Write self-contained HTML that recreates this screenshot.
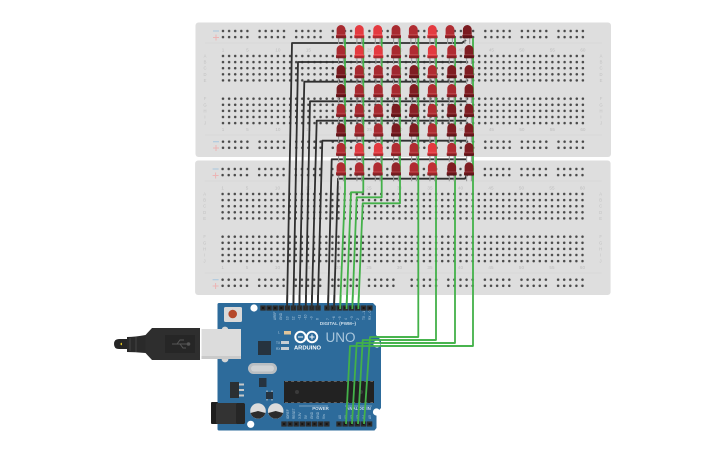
<!DOCTYPE html>
<html><head><meta charset="utf-8"><style>
html,body{margin:0;padding:0;background:#fff;width:725px;height:453px;overflow:hidden}
svg{display:block}
text{font-family:"Liberation Sans",sans-serif}
</style></head><body>
<svg width="725" height="453" viewBox="0 0 725 453" xmlns="http://www.w3.org/2000/svg">
<defs>
<pattern id="d" patternUnits="userSpaceOnUse" x="-3.05" y="-3.05" width="6.1" height="6.1"><circle cx="3.05" cy="3.05" r="1.25" fill="#484848"/></pattern>
<pattern id="p" patternUnits="userSpaceOnUse" x="0" y="0" width="6.1" height="6"><rect x=".3" y=".4" width="5.5" height="5.2" fill="#2c2c2c"/><rect x="2" y="2" width="2" height="2" fill="#151515"/></pattern>
<g id="rails">
<g transform="translate(0 0)"><rect x="-3.05" y="-3.05" width="30.5" height="12.2" fill="url(#d)"/></g>
<g transform="translate(36.6 0)"><rect x="-3.05" y="-3.05" width="30.5" height="12.2" fill="url(#d)"/></g>
<g transform="translate(73.2 0)"><rect x="-3.05" y="-3.05" width="30.5" height="12.2" fill="url(#d)"/></g>
<g transform="translate(109.8 0)"><rect x="-3.05" y="-3.05" width="30.5" height="12.2" fill="url(#d)"/></g>
<g transform="translate(146.4 0)"><rect x="-3.05" y="-3.05" width="30.5" height="12.2" fill="url(#d)"/></g>
<g transform="translate(189.1 0)"><rect x="-3.05" y="-3.05" width="30.5" height="12.2" fill="url(#d)"/></g>
<g transform="translate(225.7 0)"><rect x="-3.05" y="-3.05" width="30.5" height="12.2" fill="url(#d)"/></g>
<g transform="translate(262.3 0)"><rect x="-3.05" y="-3.05" width="30.5" height="12.2" fill="url(#d)"/></g>
<g transform="translate(298.9 0)"><rect x="-3.05" y="-3.05" width="30.5" height="12.2" fill="url(#d)"/></g>
<g transform="translate(335.5 0)"><rect x="-3.05" y="-3.05" width="30.5" height="12.2" fill="url(#d)"/></g>
</g>
<g id="nums" font-size="4.6" fill="#bdbdbd" text-anchor="middle">
<text x="223">1</text><text x="247.4">5</text><text x="277.9">10</text><text x="308.4">15</text><text x="338.9">20</text><text x="369.4">25</text><text x="399.9">30</text><text x="430.4">35</text><text x="460.9">40</text><text x="491.4">45</text><text x="521.9">50</text><text x="552.4">55</text><text x="582.9">60</text>
</g>
<g id="letters" font-size="4.2" fill="#c2c2c2" text-anchor="middle">
<text y="57.5">A</text><text y="63.6">B</text><text y="69.7">C</text><text y="75.8">D</text><text y="81.9">E</text>
<text y="100.2">F</text><text y="106.3">G</text><text y="112.4">H</text><text y="118.5">I</text><text y="124.6">J</text>
</g>
<g id="bb">
<rect x="195.5" y="22.5" width="415.5" height="134.5" rx="3" fill="#dedede"/>
<path d="M205 43H602M205 135H602" stroke="#d6d6d6" stroke-width=".7"/>
<use href="#rails" transform="translate(223 31)"/>
<use href="#rails" transform="translate(223 141.7)"/>
<g transform="translate(223 56)"><rect x="-3.05" y="-3.05" width="366" height="30.5" fill="url(#d)"/></g>
<g transform="translate(223 98.7)"><rect x="-3.05" y="-3.05" width="366" height="30.5" fill="url(#d)"/></g>
<use href="#nums" y="51.5"/><use href="#nums" y="131"/>
<use href="#letters" x="205"/><use href="#letters" x="601"/>
<path d="M213 31H219M213 141.7H219" stroke="#a6c5df" stroke-width="1"/>
<path d="M213 37.5H219M216 34.5V40.5M213 148H219M216 145V151" stroke="#ecb4b4" stroke-width="1"/>
</g>
<g id="l">
<path d="M-2.4 13V19M2.4 13V19" stroke="#9a9a9a" stroke-width="1.1"/>
<path d="M-4.4 13V4.5A4.4 4.5 0 0 1 4.4 4.5V13Z" fill="currentColor"/>
<rect x="-5" y="9.6" width="10" height="3.6" rx="1" fill="currentColor"/>
<rect x="-5" y="11" width="10" height="2.4" rx="1" fill="#000" opacity=".25"/>
<rect x="-4.4" y="9.2" width="8.8" height=".7" fill="#fff" opacity=".18"/>
</g>
</defs>

<use href="#bb"/>
<use href="#bb" transform="translate(-.4 138)"/>

<!-- black wires -->
<g fill="none" stroke="#2f2f2f" stroke-width="1.8" stroke-linejoin="round">
<path d="M287 309L292 43H462L466 40"/>
<path d="M293.3 309L298 62H466"/>
<path d="M299.3 309L304.3 81.7H466"/>
<path d="M305.7 309L310 101.3H466"/>
<path d="M311.7 309L316.7 120.7H466"/>
<path d="M317.7 309L322.3 140.7H466"/>
<path d="M328 309L331.7 159.3H466"/>
<path d="M334 309L338 178.7H465L467 175"/>
</g>
<!-- green wires -->
<g fill="none" stroke="#43b149" stroke-width="1.8" stroke-linejoin="round">
<path d="M345 38V190L340 309"/>
<path d="M363.3 38V192.3H351L346.5 309"/>
<path d="M381.7 38V197.3H356.7L352.3 309"/>
<path d="M400 38V203.3H362.7L358.3 309"/>
<path d="M418.3 38V337H370L364 424"/>
<path d="M436 38V340H362.7L358 424"/>
<path d="M455 38V343H356.7L352 424"/>
<path d="M473 38V346H350L346 424"/>
</g>

<!-- LEDs -->
<g>
<g transform="translate(0 25)">
<use href="#l" x="341" color="#a82a30"/><use href="#l" x="359.3" color="#e43a40"/><use href="#l" x="377.7" color="#e43a40"/><use href="#l" x="396" color="#a82a30"/><use href="#l" x="413.3" color="#b02c32"/><use href="#l" x="432.3" color="#e43a40"/><use href="#l" x="450" color="#b02c32"/><use href="#l" x="467.3" color="#7a1b20"/>
</g>
<g transform="translate(0 45)">
<use href="#l" x="341" color="#aa2a30"/><use href="#l" x="359.3" color="#e43a40"/><use href="#l" x="378.3" color="#e43a40"/><use href="#l" x="396" color="#aa2a30"/><use href="#l" x="414" color="#b02c32"/><use href="#l" x="432.3" color="#e43a40"/><use href="#l" x="451.7" color="#b02c32"/><use href="#l" x="469" color="#7f1d22"/>
</g>
<g transform="translate(0 65)">
<use href="#l" x="341" color="#7a1b20"/><use href="#l" x="359.3" color="#a82a30"/><use href="#l" x="378.3" color="#a82a30"/><use href="#l" x="396" color="#a02830"/><use href="#l" x="414" color="#7f1d22"/><use href="#l" x="432.3" color="#b02c32"/><use href="#l" x="451.7" color="#7f1d22"/><use href="#l" x="469" color="#7f1d22"/>
</g>
<g transform="translate(0 84)">
<use href="#l" x="341" color="#7a1b20"/><use href="#l" x="359.3" color="#a82a30"/><use href="#l" x="378.3" color="#a82a30"/><use href="#l" x="396" color="#a82a30"/><use href="#l" x="414" color="#7f1d22"/><use href="#l" x="432.3" color="#b02c32"/><use href="#l" x="451.7" color="#a82a30"/><use href="#l" x="469" color="#7f1d22"/>
</g>
<g transform="translate(0 103.7)">
<use href="#l" x="341" color="#a82a30"/><use href="#l" x="359.3" color="#a82a30"/><use href="#l" x="378.3" color="#a82a30"/><use href="#l" x="396" color="#7a1b20"/><use href="#l" x="414" color="#8a2026"/><use href="#l" x="432.3" color="#b02c32"/><use href="#l" x="451.7" color="#7f1d22"/><use href="#l" x="469" color="#7f1d22"/>
</g>
<g transform="translate(0 123.3)">
<use href="#l" x="341" color="#7a1b20"/><use href="#l" x="359.3" color="#a82a30"/><use href="#l" x="378.3" color="#a82a30"/><use href="#l" x="396" color="#7a1b20"/><use href="#l" x="414" color="#7f1d22"/><use href="#l" x="432.3" color="#b02c32"/><use href="#l" x="451.7" color="#7f1d22"/><use href="#l" x="469" color="#7f1d22"/>
</g>
<g transform="translate(0 142.7)">
<use href="#l" x="341" color="#b02c32"/><use href="#l" x="359.3" color="#e03a40"/><use href="#l" x="378.3" color="#e43a40"/><use href="#l" x="396" color="#b02c32"/><use href="#l" x="414" color="#b02c32"/><use href="#l" x="432.3" color="#e43a40"/><use href="#l" x="451.7" color="#b02c32"/><use href="#l" x="469" color="#7f1d22"/>
</g>
<g transform="translate(0 162.3)">
<use href="#l" x="341" color="#b02c32"/><use href="#l" x="359.3" color="#b02c32"/><use href="#l" x="377.7" color="#b02c32"/><use href="#l" x="396" color="#94242a"/><use href="#l" x="414" color="#b02c32"/><use href="#l" x="432.3" color="#c03035"/><use href="#l" x="451.7" color="#7f1d22"/><use href="#l" x="469" color="#7f1d22"/>
</g>
</g>

<!-- Arduino board -->
<path d="M219 303H373L376 306V335L381 340V408L376.5 413V428L374.5 430.5H219Q217.5 430.5 217.5 429V304.5Q217.5 303 219 303Z" fill="#2d6b9b"/>
<circle cx="254" cy="308" r="3.6" fill="#fff"/>
<circle cx="377" cy="344" r="3.6" fill="#fff"/>
<circle cx="376.5" cy="412" r="3.6" fill="#fff"/>
<circle cx="250.7" cy="424.3" r="3.6" fill="#fff"/>
<rect x="224" y="307" width="18" height="15" rx="1.5" fill="#d9d9d9"/>
<circle cx="232.7" cy="314" r="4.3" fill="#b5482a"/>
<g transform="translate(260 305)"><rect width="61" height="6" fill="url(#p)"/></g>
<g transform="translate(324 305)"><rect width="49" height="6" fill="url(#p)"/></g>
<g transform="translate(281 421)"><rect width="49" height="6" fill="url(#p)"/></g>
<g transform="translate(336 421)"><rect width="36.6" height="6" fill="url(#p)"/></g>

<!-- USB -->
<circle cx="225" cy="330" r="3.4" fill="#d6d6d6"/><circle cx="225" cy="359" r="3.4" fill="#d6d6d6"/>
<rect x="201.5" y="329" width="39.5" height="30" fill="#dcdcdc"/>
<rect x="201.5" y="356" width="39.5" height="3" fill="#cacaca"/>
<path d="M152 328H200V360H152L145.5 353V335Z" fill="#2e2e2e"/>
<rect x="165" y="335" width="30" height="18" fill="#262626"/>
<path d="M127 337Q135 337 145.5 335V353Q135 352 127 352Z" fill="#2a2a2a"/>
<path d="M114 344Q114 339 119 339H127V349H119Q114 349 114 344Z" fill="#262626"/>
<path d="M136 337V352M130 338V351" stroke="#444" stroke-width="1"/>
<path d="M120 344L122 342.5V345.5Z" fill="#e5c820"/>
<path d="M172 344H190M177 344L180 340H184M180 344L183 348H186" stroke="#555" stroke-width="1" fill="none"/>
<circle cx="188.5" cy="344" r="1.8" fill="#555"/>

<!-- components -->
<rect x="258" y="341" width="13" height="14" fill="#26333f"/>
<rect x="248" y="363" width="29" height="11" rx="5.5" fill="#b9bec2"/>
<rect x="251" y="365.5" width="23" height="6" rx="3" fill="#cfd2d4"/>
<rect x="259" y="378" width="7.5" height="9" fill="#26333f"/>
<rect x="230" y="382" width="9" height="16" fill="#2b2f33"/>
<path d="M239 384.5H244M239 390H244M239 395.5H244" stroke="#c8c8c8" stroke-width="2"/>
<rect x="266" y="392" width="7" height="7" fill="#26333f"/>
<path d="M267 390.5V392M272 390.5V392M267 399V400.5M272 399V400.5" stroke="#ccc" stroke-width="1"/>
<rect x="284" y="381" width="90" height="22" fill="#222"/>
<path d="M285 381.5H373M285 402.5H373" stroke="#777" stroke-width=".8" stroke-dasharray="3 3.1"/>
<circle cx="297" cy="392" r="2" fill="#3a3a3a"/>
<circle cx="361" cy="392" r="2" fill="#3a3a3a"/>
<circle cx="258" cy="411" r="7.8" fill="#dcdcdc"/>
<path d="M250.5 413A7.8 7.8 0 0 0 265.5 413L258 411Z" fill="#2c2c2c"/>
<circle cx="275.7" cy="411" r="7.8" fill="#dcdcdc"/>
<path d="M268.2 413A7.8 7.8 0 0 0 283.2 413L275.7 411Z" fill="#2c2c2c"/>
<rect x="211" y="402" width="7" height="22" rx="1" fill="#1e1e1e"/>
<rect x="216" y="403" width="29" height="21" rx="2" fill="#333"/>
<rect x="236" y="403" width="9" height="21" rx="2" fill="#262626"/>
<rect x="284" y="331" width="7" height="3.5" fill="#e0c49a"/>
<rect x="281" y="341" width="8" height="3" fill="#c8ced3"/>
<rect x="281" y="347" width="8" height="3" fill="#c8ced3"/>
<path d="M299 406H328M345 406H372" stroke="#8fb2cf" stroke-width=".8"/>

<!-- logo + labels -->
<g fill="none" stroke="#fff" stroke-width="2">
<circle cx="300.5" cy="337" r="5.2"/><circle cx="312" cy="337" r="5.2"/>
</g>
<path d="M298 337H303M309.5 337H314.5M312 334.5V339.5" stroke="#fff" stroke-width="1"/>
<text x="307.5" y="349.3" font-size="5.8" font-weight="700" fill="#fff" text-anchor="middle">ARDUINO</text>
<text x="340.5" y="342" font-size="13.5" fill="#a9c6dc" text-anchor="middle">UNO</text>
<text x="338" y="325" font-size="4.6" font-weight="700" fill="#cfdfeb" text-anchor="middle">DIGITAL (PWM~)</text>
<text x="320.5" y="410" font-size="4.4" font-weight="700" fill="#cfdfeb" text-anchor="middle">POWER</text>
<text x="358.5" y="410" font-size="4.4" font-weight="700" fill="#cfdfeb" text-anchor="middle">ANALOG IN</text>
<g font-size="3.2" fill="#b9d0e2">
<text x="278" y="333.5">L</text><text x="276" y="344">TX</text><text x="276" y="350">RX</text>
<text transform="translate(276 320)rotate(-90)">AREF</text>
<text transform="translate(282 320)rotate(-90)">GND</text>
<text transform="translate(288.5 320)rotate(-90)">13</text>
<text transform="translate(294.5 320)rotate(-90)">12</text>
<text transform="translate(300.5 320)rotate(-90)">~11</text>
<text transform="translate(306.5 320)rotate(-90)">~10</text>
<text transform="translate(312.5 320)rotate(-90)">~9</text>
<text transform="translate(318.5 320)rotate(-90)">8</text>
<text transform="translate(329 320)rotate(-90)">7</text>
<text transform="translate(335 320)rotate(-90)">~6</text>
<text transform="translate(341 320)rotate(-90)">~5</text>
<text transform="translate(347 320)rotate(-90)">4</text>
<text transform="translate(353 320)rotate(-90)">~3</text>
<text transform="translate(359 320)rotate(-90)">2</text>
<text transform="translate(365 320)rotate(-90)">TX→1</text>
<text transform="translate(371 320)rotate(-90)">RX←0</text>
<text transform="translate(289 419)rotate(-90)">IOREF</text>
<text transform="translate(295 419)rotate(-90)">RESET</text>
<text transform="translate(301 419)rotate(-90)">3.3V</text>
<text transform="translate(307 419)rotate(-90)">5V</text>
<text transform="translate(313 419)rotate(-90)">GND</text>
<text transform="translate(319 419)rotate(-90)">GND</text>
<text transform="translate(325 419)rotate(-90)">Vin</text>
<text transform="translate(341 419)rotate(-90)">A0</text>
<text transform="translate(347 419)rotate(-90)">A1</text>
<text transform="translate(353 419)rotate(-90)">A2</text>
<text transform="translate(359 419)rotate(-90)">A3</text>
<text transform="translate(365 419)rotate(-90)">A4</text>
<text transform="translate(371 419)rotate(-90)">A5</text>
</g>

<!-- wires over the board -->
<g fill="none" stroke="#2f2f2f" stroke-width="1.8">
<path d="M287 309L287.3 295M293.3 309L293.6 295M299.3 309L299.6 295M305.7 309L306 295M311.7 309L312 295M317.7 309L318 295M328 309L328.3 295M334 309L334.3 295"/>
</g>
<g fill="none" stroke="#43b149" stroke-width="1.8" stroke-linejoin="round">
<path d="M340.1 309L340.8 295M346.5 309L347 295M352.3 309L352.8 295M358.3 309L358.8 295"/>
<path d="M418.3 337H370L364 424"/>
<path d="M436 340H362.7L358 424"/>
<path d="M455 343H356.7L352 424"/>
<path d="M473 346H350L346 424"/>
</g>
</svg>
</body></html>
